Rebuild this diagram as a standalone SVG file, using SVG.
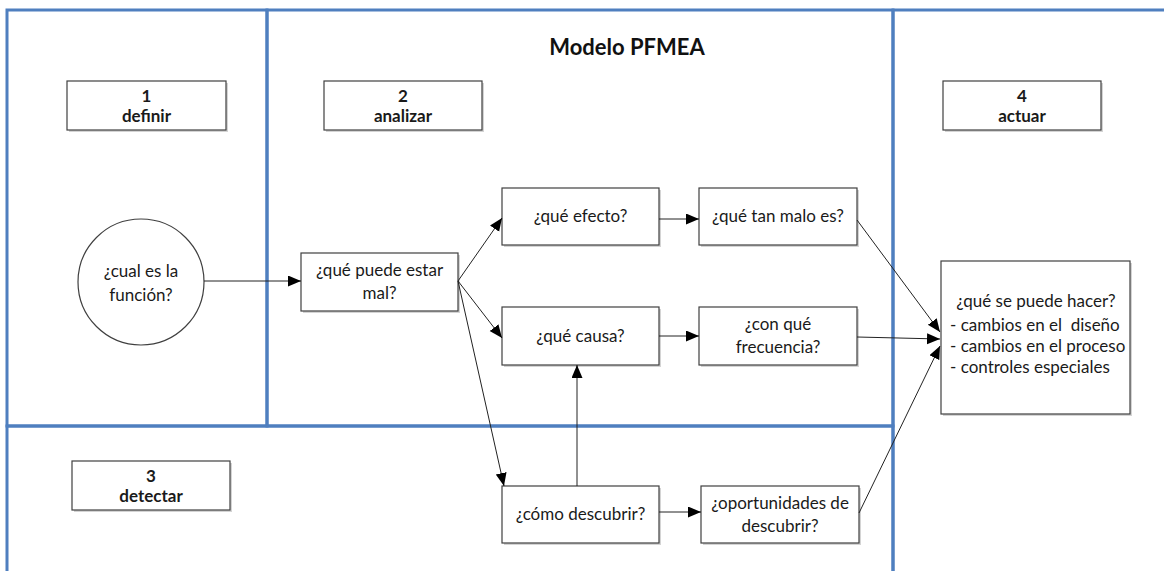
<svg xmlns="http://www.w3.org/2000/svg" width="1164" height="571" viewBox="0 0 1164 571">
<defs>
<style>
.lane{fill:none;stroke:#4F7FBF;stroke-width:3}
.box{fill:#fff;stroke:#404040;stroke-width:1.2}
.shadow{fill:#d4d4d4}
.t{font-family:Lato,"Liberation Sans",sans-serif;font-size:17px;fill:#1a1a1a;text-anchor:middle}
.b{font-weight:bold}
.title{font-family:Lato,"Liberation Sans",sans-serif;font-size:22px;font-weight:bold;fill:#111;text-anchor:middle}
.c{fill:none;stroke:#222;stroke-width:1}
</style>
<marker id="ah" markerUnits="userSpaceOnUse" markerWidth="14" markerHeight="12" refX="13" refY="5.5" orient="auto">
<path d="M0,0 L13,5.5 L0,11 z" fill="#000"/>
</marker>
</defs>
<rect width="1164" height="571" fill="#fff"/>
<g id="lanes">
<rect class="lane" x="7" y="10" width="260" height="416"/>
<rect class="lane" x="267" y="10" width="626" height="416"/>
<rect class="lane" x="7" y="426" width="886" height="160"/>
<rect class="lane" x="893" y="10" width="290" height="580"/>
</g>
<text class="title" x="627" y="55">Modelo PFMEA</text>
<g id="h1"><rect class="shadow" x="69" y="83" width="159" height="49"/><rect class="box" x="67" y="81" width="159" height="49"/><text class="t b" x="146.5" y="102">1</text><text class="t b" x="146.5" y="122">definir</text></g>
<g id="h2"><rect class="shadow" x="326" y="83" width="158" height="49"/><rect class="box" x="324" y="81" width="158" height="49"/><text class="t b" x="403" y="102">2</text><text class="t b" x="403" y="122">analizar</text></g>
<g id="h3"><rect class="shadow" x="74" y="463" width="158" height="49"/><rect class="box" x="72" y="461" width="158" height="49"/><text class="t b" x="151" y="482">3</text><text class="t b" x="151" y="502">detectar</text></g>
<g id="h4"><rect class="shadow" x="945" y="83" width="158" height="49"/><rect class="box" x="943" y="81" width="158" height="49"/><text class="t b" x="1022" y="102">4</text><text class="t b" x="1022" y="122">actuar</text></g>
<g id="funcion"><circle class="box" cx="141" cy="282" r="63"/><text class="t" x="141" y="277">¿cual es la</text><text class="t" x="141" y="301">función?</text></g>
<g id="mal"><rect class="shadow" x="303" y="255" width="157" height="58"/><rect class="box" x="301" y="253" width="157" height="58"/><text class="t" x="379.5" y="276">¿qué puede estar</text><text class="t" x="379.5" y="299">mal?</text></g>
<g id="efecto"><rect class="shadow" x="504" y="190" width="157" height="57"/><rect class="box" x="502" y="188" width="157" height="57"/><text class="t" x="580.5" y="222">¿qué efecto?</text></g>
<g id="malo"><rect class="shadow" x="701" y="190" width="158" height="57"/><rect class="box" x="699" y="188" width="158" height="57"/><text class="t" x="778" y="222">¿qué tan malo es?</text></g>
<g id="causa"><rect class="shadow" x="504" y="309" width="157" height="58"/><rect class="box" x="502" y="307" width="157" height="58"/><text class="t" x="580.5" y="342">¿qué causa?</text></g>
<g id="frecuencia"><rect class="shadow" x="701" y="309" width="158" height="58"/><rect class="box" x="699" y="307" width="158" height="58"/><text class="t" x="778" y="330">¿con qué</text><text class="t" x="778" y="353">frecuencia?</text></g>
<g id="como"><rect class="shadow" x="504" y="488" width="157" height="57"/><rect class="box" x="502" y="486" width="157" height="57"/><text class="t" x="580.5" y="520">¿cómo descubrir?</text></g>
<g id="oport"><rect class="shadow" x="703" y="488" width="158" height="57"/><rect class="box" x="701" y="486" width="158" height="57"/><text class="t" x="780" y="509">¿oportunidades de</text><text class="t" x="780" y="532">descubrir?</text></g>
<g id="hacer"><rect class="shadow" x="943" y="263" width="189" height="153"/><rect class="box" x="941" y="261" width="189" height="153"/>
<text class="t" x="1036" y="307">¿qué se puede hacer?</text>
<text class="t" x="950" y="331" style="text-anchor:start">- cambios en el &#160;diseño</text>
<text class="t" x="950" y="352" style="text-anchor:start">- cambios en el proceso</text>
<text class="t" x="950" y="373" style="text-anchor:start">- controles especiales</text></g>
<g id="connectors">
<line class="c" x1="204" y1="281" x2="301" y2="281" marker-end="url(#ah)"/>
<line class="c" x1="458" y1="281" x2="502" y2="218" marker-end="url(#ah)"/>
<line class="c" x1="458" y1="281" x2="502" y2="338" marker-end="url(#ah)"/>
<line class="c" x1="458" y1="281" x2="504" y2="486" marker-end="url(#ah)"/>
<line class="c" x1="659" y1="219" x2="699" y2="219" marker-end="url(#ah)"/>
<line class="c" x1="659" y1="336" x2="699" y2="336" marker-end="url(#ah)"/>
<line class="c" x1="577" y1="486" x2="577" y2="365" marker-end="url(#ah)"/>
<line class="c" x1="659" y1="512" x2="701" y2="512" marker-end="url(#ah)"/>
<line class="c" x1="857" y1="220" x2="940" y2="332" marker-end="url(#ah)"/>
<line class="c" x1="857" y1="337" x2="940" y2="339" marker-end="url(#ah)"/>
<line class="c" x1="859" y1="513" x2="940" y2="346" marker-end="url(#ah)"/>
</g>
</svg>
